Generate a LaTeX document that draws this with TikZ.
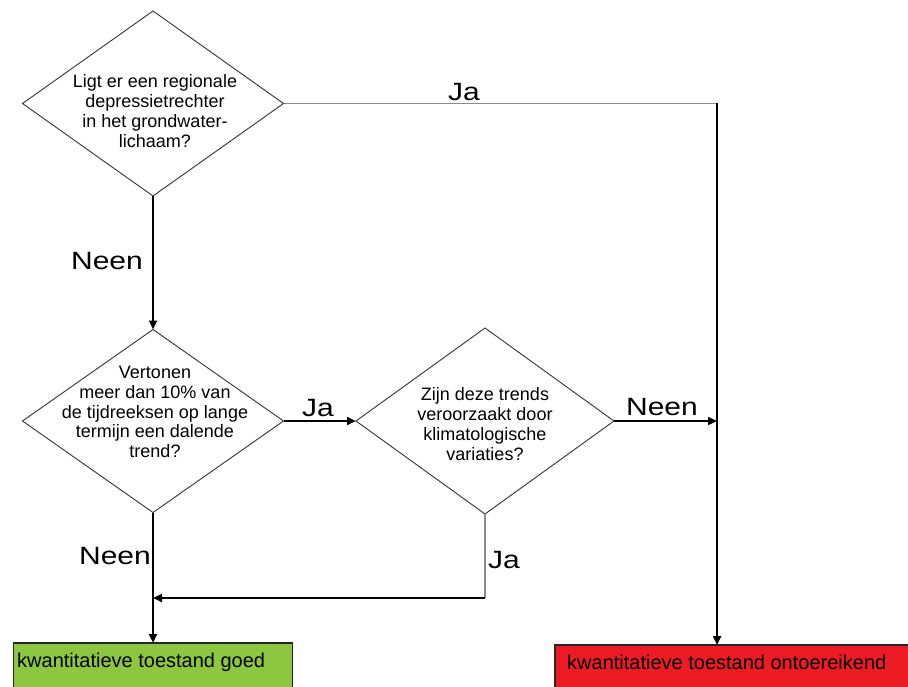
\documentclass[tikz,border=0pt]{standalone}
\usepackage{fontspec}
\setmainfont{Liberation Sans}
\newfontfamily\labelfont[FakeStretch=1.2]{Liberation Sans}
\usetikzlibrary{shapes.geometric,arrows.meta}
\definecolor{goodgreen}{HTML}{8DC63F}
\definecolor{badred}{HTML}{ED1C24}
\tikzset{
  question/.style={draw=black!80, line width=0.9pt, shape=diamond, inner sep=0pt, outer sep=0pt},
  qtext/.style={align=center, inner sep=0pt, font=\fontsize{18}{19.8}\selectfont},
  answer/.style={inner sep=0pt, font=\labelfont\fontsize{25}{27}\selectfont},
  flow/.style={line width=2.4pt, -{Triangle[length=9pt,width=8pt]}},
  thinflow/.style={line width=1.2pt, draw=black!45},
  result/.style={draw=black!85, line width=1.2pt, inner sep=0pt, outer sep=0pt},
  rtext/.style={inner sep=0pt, anchor=west, font=\fontsize{20}{22}\selectfont},
}
\begin{document}
\begin{tikzpicture}[x=1pt,y=-1pt]
\useasboundingbox (0,0) rectangle (908,687);
\clip (0,0) rectangle (908,687);

% decision diamonds
\node[question, minimum width=261pt, minimum height=185pt] (d1) at (153,103.5) {};
\node[question, minimum width=261pt, minimum height=183pt] (d2) at (153,421) {};
\node[question, minimum width=258pt, minimum height=186pt] (d3) at (485,421) {};

\node[qtext] (t1) at (155,111) {Ligt er een regionale\\depressietrechter\\in het grondwater-\\lichaam?};
\node[qtext] (t2) at (155,412) {Vertonen\\meer dan 10\% van\\de tijdreeksen op lange\\termijn een dalende\\trend?};
\node[qtext] (t3) at (485,424) {Zijn deze trends\\veroorzaakt door\\klimatologische\\variaties?};

% outcome boxes
\node[result, fill=goodgreen, minimum width=279pt, minimum height=60pt] (good) at (153,673) {};
\node[result, fill=badred, minimum width=356pt, minimum height=60pt] (bad) at (733,675) {};
\node[rtext] (goodtext) at (17,662) {kwantitatieve toestand goed};
\node[rtext] (badtext) at (567,662) {kwantitatieve toestand ontoereikend};

% routing points
\coordinate (c1) at (717,103.5);
\coordinate (c2) at (717,421);
\coordinate (c3) at (485,598);
\coordinate (c4) at (153,598);

% connectors
\draw[thinflow] (d1.east) -- (c1);
\draw[flow] (c1) -- (bad.north -| c1);
\draw[flow] (d1.south) -- (d2.north);
\draw[flow] (d2.east) -- (d3.west);
\draw[flow] (d3.east) -- (c2);
\draw[thinflow] (d3.south) -- (c3);
\draw[flow] (c3) -- (c4);
\draw[flow] (d2.south) -- (good.north);

% answer labels
\node[answer] (ja1) at (464,92) {Ja};
\node[answer] (neen1) at (107,261) {Neen};
\node[answer] (ja2) at (318,408) {Ja};
\node[answer] (neen2) at (662,407) {Neen};
\node[answer] (neen3) at (115,556) {Neen};
\node[answer] (ja3) at (504,560) {Ja};
\end{tikzpicture}
\end{document}
